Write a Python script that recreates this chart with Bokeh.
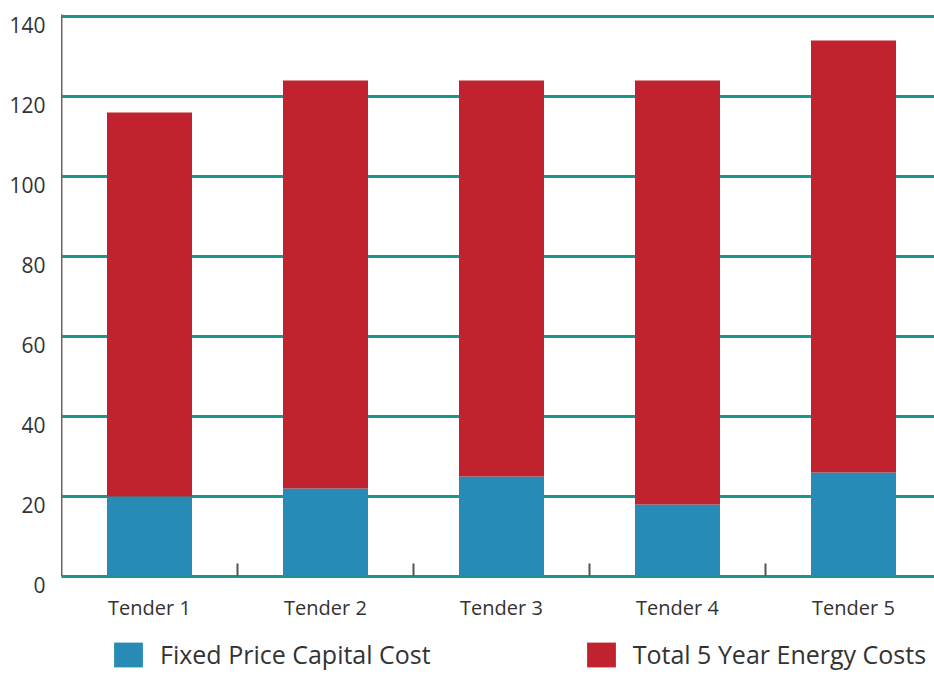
import numpy as np
from bokeh.plotting import figure
from bokeh.layouts import column, row
from bokeh.core.properties import value
from bokeh.models import FixedTicker, Legend, LegendItem, Range1d, ColumnDataSource
from bokeh.embed import file_html
from bokeh.resources import INLINE

categories = ["Tender 1", "Tender 2", "Tender 3", "Tender 4", "Tender 5"]
capital = [20, 22, 25, 18, 26]
energy = [96, 102, 99, 106, 108]
series_names = ["Fixed Price Capital Cost", "Total 5 Year Energy Costs"]
y_ticks = [0, 20, 40, 60, 80, 100, 120, 140]

BLUE = "#278bb5"
RED = "#c0232f"
TEAL = "#1e978a"
TEXT = "#333333"
FONT = "Open Sans"

n = len(categories)
centers = list(np.arange(n) + 0.5)
bounds = list(np.arange(1, n))

src = ColumnDataSource(dict(x=centers, capital=capital, energy=energy))

# ---- main chart
p = figure(frame_width=873, frame_height=562, output_backend="svg", toolbar_location=None,
           x_range=Range1d(0, 873 / 176), y_range=Range1d(0, 140.5),
           min_border_left=0, min_border_right=0, min_border_top=14, min_border_bottom=0)
p.outline_line_color = None

r = p.vbar_stack(["capital", "energy"], x="x", width=85 / 176, color=[BLUE, RED], source=src,
                 line_color=None)

p.xgrid.grid_line_color = None
p.ygrid.ticker = FixedTicker(ticks=y_ticks)
p.ygrid.grid_line_color = TEAL
p.ygrid.grid_line_width = 3

p.yaxis.ticker = FixedTicker(ticks=[])
p.yaxis.major_tick_line_color = None
p.yaxis.minor_tick_line_color = None
p.yaxis.major_label_standoff = 0
p.yaxis.axis_line_color = "#666666"
p.yaxis.axis_line_width = 2

p.xaxis.ticker = FixedTicker(ticks=centers, minor_ticks=bounds)
p.xaxis.major_label_overrides = {float(c): lab for c, lab in zip(centers, categories)}
p.xaxis.major_tick_line_color = None
p.xaxis.minor_tick_in = 13
p.xaxis.minor_tick_out = 0
p.xaxis.minor_tick_line_color = "#555555"
p.xaxis.minor_tick_line_width = 2
p.xaxis.axis_line_color = TEAL
p.xaxis.axis_line_width = 3
p.xaxis.major_label_text_font = FONT
p.xaxis.major_label_text_font_size = "20px"
p.xaxis.major_label_text_color = TEXT
p.xaxis.major_label_standoff = 11

# ---- y tick labels strip (same 4 px per unit scale, labels sit just below their lines)
ylab = figure(width=61, frame_height=586, output_backend="svg", toolbar_location=None,
              x_range=Range1d(0, 1), y_range=Range1d(-6, 140.5),
              x_axis_type=None, y_axis_type=None,
              min_border_left=0, min_border_right=0, min_border_top=14, min_border_bottom=0)
ylab.outline_line_color = None
ylab.grid.visible = False
ysrc = ColumnDataSource(dict(x=[1] * len(y_ticks), y=y_ticks, text=[str(v) for v in y_ticks]))
ylab.text(x="x", y="y", text="text", source=ysrc, x_offset=-16, y_offset=8,
          text_align="right", text_baseline="middle", text_font=value(FONT),
          text_font_size="21px", text_color=TEXT)

# ---- legend strip
lg = figure(width=934, height=51, output_backend="svg", toolbar_location=None,
            x_range=Range1d(0, 1), y_range=Range1d(0, 1),
            x_axis_type=None, y_axis_type=None,
            min_border_left=0, min_border_right=0, min_border_top=0, min_border_bottom=0)
lg.grid.visible = False
lg.outline_line_color = None
d1 = lg.vbar(x=[0], top=[0], width=0, color=BLUE, line_color=None)
d2 = lg.vbar(x=[0], top=[0], width=0, color=RED, line_color=None)
legend = Legend(items=[LegendItem(label=series_names[0], renderers=[d1]),
                       LegendItem(label=series_names[1], renderers=[d2])],
                orientation="horizontal", location=(110, 3))
legend.glyph_width = 36
legend.glyph_height = 31
legend.label_text_font = FONT
legend.label_text_font_size = "25px"
legend.label_text_color = TEXT
legend.label_standoff = 14
legend.spacing = 152
legend.padding = 0
legend.margin = 0
legend.border_line_color = None
legend.background_fill_alpha = 0
lg.add_layout(legend)

layout = column(row(ylab, p, spacing=0), lg, spacing=0)
open("out.html", "w").write(file_html(layout, INLINE))
